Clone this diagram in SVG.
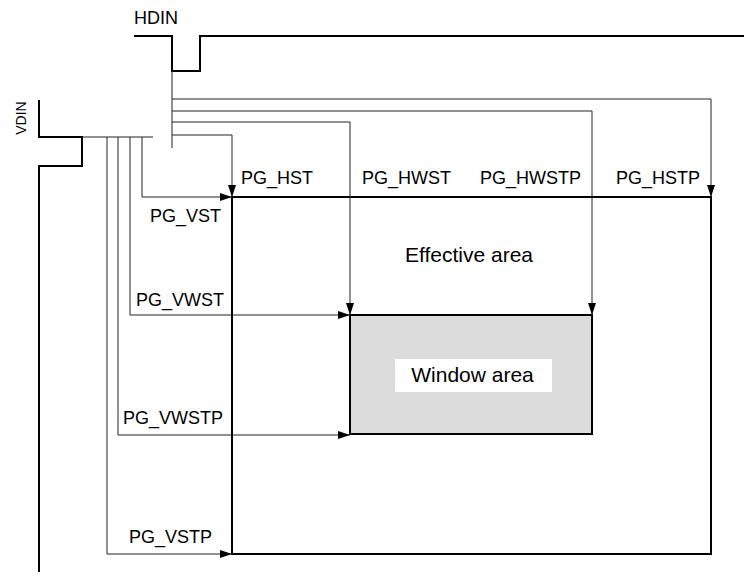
<svg xmlns="http://www.w3.org/2000/svg" width="744" height="577" viewBox="0 0 744 577">
<defs>
<style>
.thick{fill:none;stroke:#000;stroke-width:2}
.thin{fill:none;stroke:#222;stroke-width:1}
.lbl{font-family:"Liberation Sans",Arial,sans-serif;font-size:18px;fill:#000}
.big{font-family:"Liberation Sans",Arial,sans-serif;font-size:21px;fill:#000;text-anchor:middle}
</style>
<marker id="ah" markerUnits="userSpaceOnUse" markerWidth="12" markerHeight="8" refX="12" refY="4" orient="auto">
<path d="M0,0 L12,4 L0,8 z" fill="#000"/>
</marker>
</defs>
<rect width="744" height="577" fill="#fff"/>
<g id="hdin">
<path class="thick" d="M134,36 H172 V71 H200 V36 H744"/>
<text class="lbl" x="134" y="24">HDIN</text>
</g>
<g id="vdin">
<path class="thick" d="M39,100 V137 H82 V166 H39 V572"/>
<text class="lbl" style="font-size:14px" text-anchor="middle" transform="translate(26,118) rotate(-90)">VDIN</text>
</g>
<g id="effective-area">
<rect class="thick" x="232" y="197" width="479" height="357"/>
<text class="big" x="469" y="262">Effective area</text>
</g>
<g id="window-area">
<rect x="350" y="315" width="242" height="119" fill="#dcdcdc" stroke="#000" stroke-width="2"/>
<rect x="395" y="359" width="157" height="33" fill="#fff"/>
<text class="big" x="472.5" y="382">Window area</text>
</g>
<g id="connectors">
<path class="thin" d="M172,71 V148"/>
<path class="thin" d="M82,137 H153"/>
<path class="thin" d="M172,99 H711 V197" marker-end="url(#ah)"/>
<path class="thin" d="M172,111 H592 V315" marker-end="url(#ah)"/>
<path class="thin" d="M172,122 H350 V315" marker-end="url(#ah)"/>
<path class="thin" d="M172,135 H232 V197" marker-end="url(#ah)"/>
<path class="thin" d="M142,137 V197 H232" marker-end="url(#ah)"/>
<path class="thin" d="M130,137 V315 H350" marker-end="url(#ah)"/>
<path class="thin" d="M118,137 V435 H350" marker-end="url(#ah)"/>
<path class="thin" d="M107,137 V554 H232" marker-end="url(#ah)"/>
</g>
<g id="labels">
<text class="lbl" x="241" y="184">PG_HST</text>
<text class="lbl" x="362" y="184">PG_HWST</text>
<text class="lbl" x="480" y="184">PG_HWSTP</text>
<text class="lbl" x="616" y="184">PG_HSTP</text>
<text class="lbl" x="150" y="222">PG_VST</text>
<text class="lbl" x="136" y="306">PG_VWST</text>
<text class="lbl" x="123" y="424">PG_VWSTP</text>
<text class="lbl" x="129" y="543">PG_VSTP</text>
</g>
</svg>
